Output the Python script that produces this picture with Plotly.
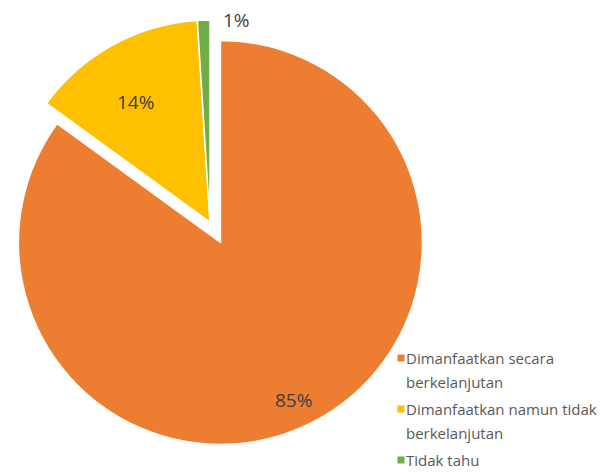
import math
import plotly.graph_objects as go

# ---- data ----
labels = ["Dimanfaatkan secara berkelanjutan",
          "Dimanfaatkan namun tidak berkelanjutan",
          "Tidak tahu"]
legend_lines = [["Dimanfaatkan secara", "berkelanjutan"],
                ["Dimanfaatkan namun tidak", "berkelanjutan"],
                ["Tidak tahu"]]
values = [85, 14, 1]
colors = ["#ED7D31", "#FFC000", "#70AD47"]
exploded = [True, False, False]

# ---- layout constants (page pixels) ----
PAGE_W, PAGE_H = 610, 476
OFF = 8                      # default body margin of the html page
W, H = PAGE_W - OFF, PAGE_H - OFF
R = 202
BASE = (210, 222)            # centre of the un-exploded pie (page px)
EXPLODE = 23                 # explosion distance
# label placement style: (radial fraction, angle offset in deg)
label_style = [(0.86, 2), (0.70, -3), (1.01, 9.4)]

def fx(px):
    return (px - OFF) / W

def fy(py):
    return 1 - (py - OFF) / H

def clamp(v):
    return min(1.0, max(0.0, v))

total = sum(values)
cum = 0
mids = []
for v in values:
    mids.append((cum + v / 2) / total * 360.0)
    cum += v

def centre(i):
    if not exploded[i]:
        return BASE
    a = math.radians(mids[i])
    return (BASE[0] + EXPLODE * math.sin(a), BASE[1] - EXPLODE * math.cos(a))

fig = go.Figure()
for i in range(len(values)):
    cx, cy = centre(i)
    cols = [c if j == i else "rgba(0,0,0,0)" for j, c in enumerate(colors)]
    lcols = ["white" if j == i else "rgba(0,0,0,0)" for j in range(len(values))]
    fig.add_trace(go.Pie(
        labels=labels, values=values, sort=False, direction="clockwise",
        rotation=0, textinfo="none", hoverinfo="skip", showlegend=False,
        marker=dict(colors=cols, line=dict(color=lcols, width=1.5)),
        domain=dict(x=[clamp(fx(cx - R)), clamp(fx(cx + R))],
                    y=[clamp(fy(cy + R)), clamp(fy(cy - R))]),
    ))

annotations = []
shapes = []
# percentage labels
for i, v in enumerate(values):
    cx, cy = centre(i)
    f, d = label_style[i]
    a = math.radians(mids[i] + d)
    px = cx + f * R * math.sin(a)
    py = cy - f * R * math.cos(a)
    annotations.append(dict(
        x=fx(px), y=fy(py), xref="paper", yref="paper",
        text=f"{round(v / total * 100)}%", showarrow=False,
        xanchor="center", yanchor="middle",
        font=dict(family="Open Sans", size=19, color="#404040")))

# legend
LX, LY0, STEP, GAP = 401, 358, 24, 3
y = LY0
for i, lines in enumerate(legend_lines):
    shapes.append(dict(type="rect", xref="paper", yref="paper",
                       x0=fx(LX - 3.5), x1=fx(LX + 3.5),
                       y0=fy(y + 3.5), y1=fy(y - 3.5),
                       fillcolor=colors[i], line=dict(width=0)))
    for ln in lines:
        annotations.append(dict(
            x=fx(LX + 3), y=fy(y), xref="paper", yref="paper",
            text=ln, showarrow=False, xanchor="left", yanchor="middle",
            font=dict(family="Open Sans", size=15, color="#595959")))
        y += STEP
    y += GAP

fig.update_layout(width=W, height=H, margin=dict(l=0, r=0, t=0, b=0),
                  paper_bgcolor="white", plot_bgcolor="white",
                  annotations=annotations, shapes=shapes, showlegend=False)
fig.write_html("out.html")
